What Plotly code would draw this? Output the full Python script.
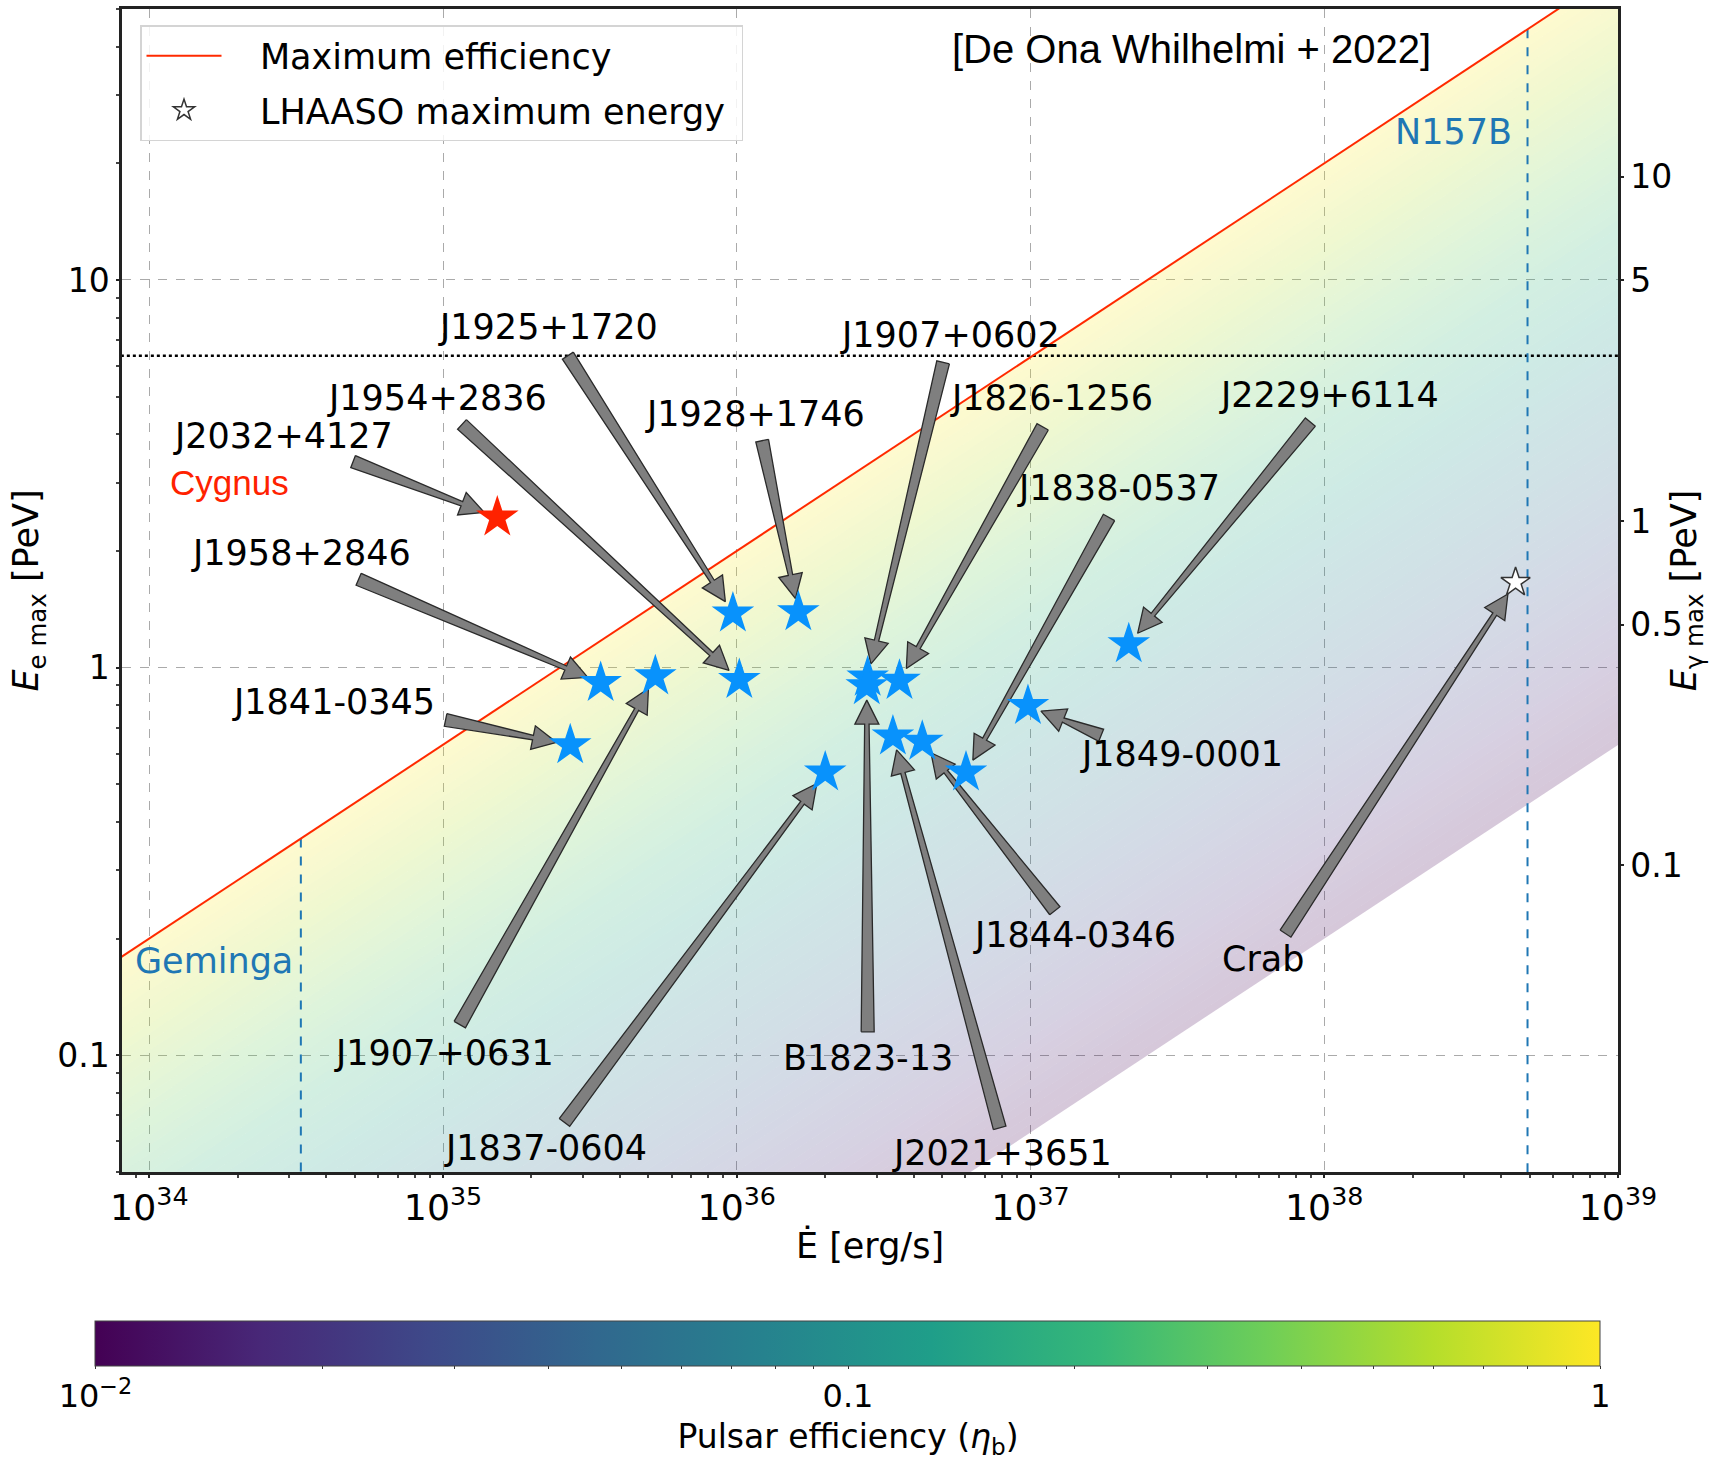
import re
import numpy as np
import plotly.graph_objects as go
from plotly.colors import sample_colorscale

# ---------------- data ----------------
pulsar_names = ["J1925+1720", "J1928+1746", "J1958+2846", "J1907+0631", "J1954+2836",
                "J1841-0345", "J1907+0602", "B1823-13", "J1826-1256", "J2229+6114",
                "J1849-0001", "J1838-0537", "J1844-0346", "J2021+3651", "J1837-0604"]
pulsar_edot = [9.7e35, 1.62e36, 3.44e35, 5.28e35, 1.02e36,
               2.71e35, 2.79e36, 2.77e36, 3.58e36, 2.16e37,
               9.8e36, 6.03e36, 4.28e36, 3.40e36, 2.0e36]
pulsar_emax = [1.38, 1.39, 0.913, 0.95, 0.93,
               0.631, 0.943, 0.896, 0.925, 1.15,
               0.797, 0.537, 0.644, 0.665, 0.537]

cygnus_name = "J2032+4127"
cygnus_edot = [1.53e35]
cygnus_emax = [2.44]

crab_edot = [4.48e38]          # LHAASO maximum energy (open star)
crab_emax = [1.66]

# maximum-efficiency line (eta = 1), end points
max_eff_edot = [8.0e33, 1.0e39]
max_eff_emax = [0.179, 63.2]
eff_min, eff_max = 0.01, 1.0    # colour-bar range of pulsar efficiency

lhaaso_level = 6.38             # dotted horizontal line [PeV]
geminga_edot = 3.28e34
n157b_edot = 4.92e38

# annotation labels: text, label (Edot, Ee), arrow tail (Edot, Ee)
ann_text = ["J1925+1720", "J1954+2836", "J2032+4127", "J1928+1746", "J1907+0602",
            "J1826-1256", "J2229+6114", "J1838-0537", "J1958+2846", "J1841-0345",
            "J1849-0001", "J1907+0631", "J1837-0604", "B1823-13", "J1844-0346",
            "J2021+3651", "Crab"]
ann_label_edot = [2.28e35, 9.55e34, 2.86e34, 1.15e36, 5.30e36,
                  1.18e37, 1.04e38, 2.0e37, 3.28e34, 4.24e34,
                  3.27e37, 1.01e35, 2.24e35, 2.79e36, 1.41e37,
                  8.0e36, 6.22e37]
ann_label_emax = [7.55, 4.95, 3.97, 4.52, 7.21,
                  4.95, 5.05, 2.91, 1.97, 0.813,
                  0.60, 0.1016, 0.0578, 0.0984, 0.2046,
                  0.056, 0.177]
ann_tail_edot = [2.66e35, 1.16e35, 4.94e34, 1.22e36, 5.04e36,
                 1.10e37, 8.97e37, 1.85e37, 5.16e34, 1.02e35,
                 1.74e37, 1.14e35, 2.59e35, 2.79e36, 1.21e37,
                 7.85e36, 7.38e37]
ann_tail_emax = [6.38, 4.24, 3.40, 3.85, 6.13,
                 4.18, 4.30, 2.44, 1.69, 0.733,
                 0.669, 0.120, 0.0671, 0.115, 0.236,
                 0.065, 0.206]

# ---------------- geometry ----------------
W, H = 1709, 1463
ML, MR, MT, MB = 122, 91, 9, 291
PW, PH = W - ML - MR, H - MT - MB
XR = [33.907, 39.0]
YR = [np.log10(0.05), np.log10(50)]
Y2R = [-1.89, 1.4865]
SX = PW / (XR[1] - XR[0])
SY = PH / (YR[1] - YR[0])

FONT = "DejaVu Sans"
ARROW_FILL = "#7f7f7f"
ARROW_LINE = "#2a2a2a"
STAR_BLUE = "rgb(8,146,252)"
NB = "\u00a0"

fig = go.Figure()

# ---------- efficiency shading (pale viridis bands) ----------
def rgba_from(c, a):
    nums = [float(v) for v in re.findall(r"[\d.]+", c)[:3]]
    return "rgba(%d,%d,%d,%.3f)" % (round(nums[0]), round(nums[1]), round(nums[2]), a)

nb = 90
edges = np.linspace(np.log10(eff_min), np.log10(eff_max), nb + 1)
for i in range(nb):
    lo, hi = 10 ** edges[i], 10 ** edges[i + 1]
    t = ((edges[i] + edges[i + 1]) / 2 - np.log10(eff_min)) / (np.log10(eff_max) - np.log10(eff_min))
    col = rgba_from(sample_colorscale("Viridis", [t])[0], 0.22)
    xs = [max_eff_edot[0], max_eff_edot[1], max_eff_edot[1], max_eff_edot[0], max_eff_edot[0]]
    ys = [lo * max_eff_emax[0], lo * max_eff_emax[1], hi * max_eff_emax[1], hi * max_eff_emax[0], lo * max_eff_emax[0]]
    fig.add_trace(go.Scatter(x=xs, y=ys, mode="lines", fill="toself", fillcolor=col,
                             line=dict(width=0), hoverinfo="skip", showlegend=False))

# ---------- reference lines ----------
fig.add_trace(go.Scatter(x=[max_eff_edot[0], max_eff_edot[1]], y=[lhaaso_level, lhaaso_level],
                         mode="lines", line=dict(color="black", width=2.5, dash="dot"),
                         hoverinfo="skip", showlegend=False))

def red_at(e):
    le = np.log10(max_eff_edot)
    lv = np.log10(max_eff_emax)
    return 10 ** np.interp(np.log10(e), le, lv)

for e in (geminga_edot, n157b_edot):
    fig.add_trace(go.Scatter(x=[e, e], y=[red_at(e), 0.01], mode="lines",
                             line=dict(color="#1f77b4", width=2, dash="dash"),
                             hoverinfo="skip", showlegend=False))

fig.add_trace(go.Scatter(x=max_eff_edot, y=max_eff_emax, mode="lines",
                         line=dict(color="#ff2a00", width=2), name=NB * 3 + "Maximum efficiency",
                         legendgroup="a", hoverinfo="skip"))

# ---------- arrows ----------
target_edot = dict(zip(pulsar_names, pulsar_edot))
target_emax = dict(zip(pulsar_names, pulsar_emax))
target_edot[cygnus_name] = cygnus_edot[0]
target_emax[cygnus_name] = cygnus_emax[0]
target_edot["Crab"] = crab_edot[0]
target_emax["Crab"] = crab_emax[0]

WT, WS, HW, HL, SHRINK = 6.5, 2.2, 12.0, 24.0, 14.0

def arrow_xy(x0, y0, x1, y1):
    X0, Y0 = np.log10(x0) * SX, np.log10(y0) * SY
    X1, Y1 = np.log10(x1) * SX, np.log10(y1) * SY
    d = np.hypot(X1 - X0, Y1 - Y0)
    ux, uy = (X1 - X0) / d, (Y1 - Y0) / d
    nx, ny = -uy, ux
    hx, hy = X1 - ux * SHRINK, Y1 - uy * SHRINK
    bx, by = hx - ux * HL, hy - uy * HL
    pts = [(X0 + nx * WT, Y0 + ny * WT), (bx + nx * WS, by + ny * WS), (bx + nx * HW, by + ny * HW),
           (hx, hy), (bx - nx * HW, by - ny * HW), (bx - nx * WS, by - ny * WS),
           (X0 - nx * WT, Y0 - ny * WT), (X0 + nx * WT, Y0 + ny * WT)]
    return [10 ** (p[0] / SX) for p in pts], [10 ** (p[1] / SY) for p in pts]

for txt, te, tm in zip(ann_text, ann_tail_edot, ann_tail_emax):
    xs, ys = arrow_xy(te, tm, target_edot[txt], target_emax[txt])
    fig.add_trace(go.Scatter(x=xs, y=ys, mode="lines", fill="toself", fillcolor=ARROW_FILL,
                             line=dict(color=ARROW_LINE, width=1.3), hoverinfo="skip",
                             showlegend=False))

# ---------- stars ----------
fig.add_trace(go.Scatter(x=pulsar_edot, y=pulsar_emax, mode="markers", text=pulsar_names,
                         marker=dict(symbol="star", size=32, color=STAR_BLUE, line=dict(width=0)),
                         showlegend=False))
fig.add_trace(go.Scatter(x=cygnus_edot, y=cygnus_emax, mode="markers",
                         marker=dict(symbol="star", size=32, color="#ff2200", line=dict(width=0)),
                         showlegend=False))
fig.add_trace(go.Scatter(x=crab_edot, y=crab_emax, mode="markers",
                         name=NB * 3 + "LHAASO maximum energy" + NB,
                         legendgroup="b",
                         marker=dict(symbol="star", size=22, color="white",
                                     line=dict(color="#333333", width=1.5))))

# invisible trace to hold the right axis + colour bar
fig.add_trace(go.Scatter(x=[1e33, 1e33], y=[1, 1], yaxis="y2", mode="markers", showlegend=False,
                         hoverinfo="skip",
                         marker=dict(size=1, opacity=0, color=[np.log10(eff_min), np.log10(eff_max)],
                                     colorscale="Viridis", cmin=np.log10(eff_min), cmax=np.log10(eff_max),
                                     showscale=True,
                                     colorbar=dict(
                                         orientation="h", x=(848 - ML) / PW, xanchor="center",
                                         y=-(1321 - (MT + PH)) / PH, yanchor="top",
                                         len=1505, lenmode="pixels", thickness=45, thicknessmode="pixels",
                                         xpad=0, ypad=0, outlinewidth=1, outlinecolor="#444",
                                         tickvals=[-2, -1, 0] + [np.log10(k * 1e-2) for k in range(2, 10)]
                                                  + [np.log10(k * 1e-1) for k in range(2, 10)],
                                         ticktext=["10<sup>\u22122</sup>", "0.1", "1"] + [""] * 16,
                                         ticks="outside", ticklen=3, tickcolor="#333",
                                         tickfont=dict(size=32, family=FONT),
                                         title=dict(text="Pulsar efficiency (<i>\u03b7</i><sub>b</sub>)",
                                                    side="bottom", font=dict(size=33, family=FONT))))))

# ---------- text annotations ----------
ann = []
for txt, le, lm in zip(ann_text, ann_label_edot, ann_label_emax):
    ann.append(dict(x=np.log10(le), y=np.log10(lm), xref="x", yref="y", text=txt, showarrow=False,
                    font=dict(family=FONT, size=35, color="black"), xanchor="center", yanchor="middle"))
ann.append(dict(x=np.log10(1.88e34), y=np.log10(3.01), xref="x", yref="y", text="Cygnus",
                showarrow=False, xanchor="center", yanchor="middle",
                font=dict(family="Liberation Sans", size=35, color="#ff2200")))
ann.append(dict(x=np.log10(geminga_edot) - 0.02, y=-0.757, xref="x", yref="y", text="Geminga",
                showarrow=False, xanchor="right", yanchor="middle",
                font=dict(family=FONT, size=35, color="#1f77b4")))
ann.append(dict(x=np.log10(n157b_edot) - 0.045, y=1.381, xref="x", yref="y", text="N157B",
                showarrow=False, xanchor="right", yanchor="middle",
                font=dict(family=FONT, size=35, color="#1f77b4")))
ann.append(dict(x=(1191 - ML) / PW, y=(MT + PH - 49) / PH, xref="paper", yref="paper",
                text="[De Ona Whilhelmi + 2022]", showarrow=False, xanchor="center", yanchor="middle",
                font=dict(family="Liberation Sans", size=40, color="black")))

axis_common = dict(showline=True, linecolor="#222", linewidth=2.5, zeroline=False,
                   ticks="outside", tickcolor="#222", tickwidth=1.5, ticklen=3)

fig.update_layout(
    width=W, height=H,
    margin=dict(l=ML, r=MR, t=MT, b=MB, autoexpand=False),
    paper_bgcolor="white", plot_bgcolor="white",
    font=dict(family=FONT, size=33, color="black"),
    annotations=ann,
    showlegend=True,
    legend=dict(x=(140 - ML) / PW, y=(MT + PH - 25) / PH, xanchor="left", yanchor="top",
                bgcolor="rgba(255,255,255,0.85)", bordercolor="#d4d4d4", borderwidth=1.5,
                font=dict(size=35, family=FONT), itemwidth=75, tracegroupgap=6),
    xaxis=dict(type="log", range=XR, dtick=1, exponentformat="power", showexponent="all",
               showgrid=True, gridcolor="#aaaaaa", griddash="dash", gridwidth=1, mirror=True,
               minor=dict(ticks="outside", ticklen=3, tickcolor="#444", showgrid=False),
               tickfont=dict(size=29, family=FONT),
               title=dict(text="\u0116 [erg/s]", font=dict(size=35, family=FONT), standoff=6),
               **axis_common),
    yaxis=dict(type="log", range=YR, dtick=1,
               showgrid=True, gridcolor="#aaaaaa", griddash="dash", gridwidth=1, mirror=True,
               minor=dict(ticks="outside", ticklen=3, tickcolor="#444", showgrid=False),
               tickfont=dict(size=33, family=FONT),
               title=dict(text="<i>E</i><sub>e max</sub> [PeV]", font=dict(size=35, family=FONT), standoff=8),
               **axis_common),
    yaxis2=dict(type="log", range=Y2R, overlaying="y", side="right", anchor="x",
                tickvals=[0.1, 0.5, 1, 5, 10], ticktext=["0.1", "0.5", "1", "5", "10"],
                showgrid=False, tickfont=dict(size=33, family=FONT),
                title=dict(text="<i>E</i><sub>\u03b3 max</sub> [PeV]", font=dict(size=35, family=FONT), standoff=16),
                **axis_common),
)

fig.write_html("out.html")
